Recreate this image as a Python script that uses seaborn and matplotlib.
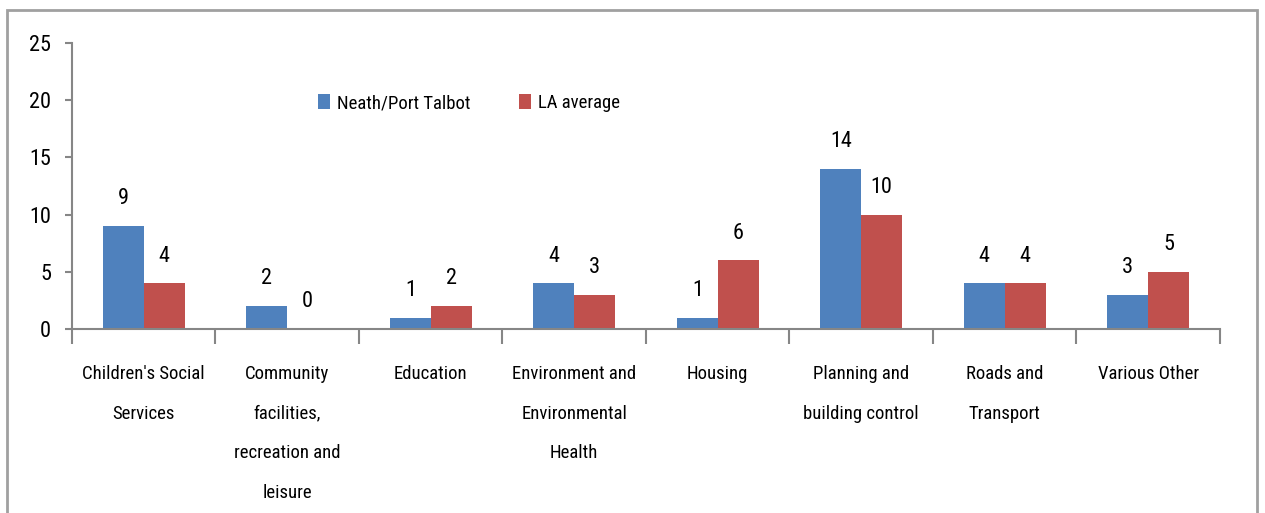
import pandas as pd
import matplotlib.pyplot as plt
import seaborn as sns
from matplotlib import font_manager
from matplotlib.patches import Rectangle

categories = [
    "Children's Social\nServices",
    "Community\nfacilities,\nrecreation and\nleisure",
    "Education",
    "Environment and\nEnvironmental\nHealth",
    "Housing",
    "Planning and\nbuilding control",
    "Roads and\nTransport",
    "Various Other",
]
neath = [9, 2, 1, 4, 1, 14, 4, 3]
la_avg = [4, 0, 2, 3, 6, 10, 4, 5]
series = ["Neath/Port Talbot", "LA average"]
colors = ["#4F81BD", "#C0504D"]

df = pd.DataFrame({
    "category": categories * 2,
    "value": neath + la_avg,
    "series": [series[0]] * len(neath) + [series[1]] * len(la_avg),
})

# narrow font if we have one, otherwise Lato
installed = {f.name for f in font_manager.fontManager.ttflist}
font = "Roboto Condensed" if "Roboto Condensed" in installed else "Lato"
small = 13.5 if font == "Roboto Condensed" else 12.5

sns.set_style("white")
plt.rcParams["font.family"] = [font, "DejaVu Sans"]
plt.rcParams["font.size"] = 16
plt.rcParams["text.color"] = "black"
plt.rcParams["xtick.color"] = "black"
plt.rcParams["ytick.color"] = "black"

fig = plt.figure(figsize=(12.65, 5.13), dpi=100)
ax = fig.add_axes([0.0569, 0.3587, 0.9075, 0.5575])

sns.barplot(data=df, x="category", y="value", hue="series", palette=colors,
            width=0.57, saturation=1, ax=ax, gap=0, linewidth=0)

for c in ax.containers:
    ax.bar_label(c, fmt="%d", padding=12, fontsize=16)

gray = "#868686"
ax.set_ylim(0, 25)
ax.set_xlim(-0.5, 7.5)
ax.set_yticks([0, 5, 10, 15, 20, 25])
ax.set_xlabel("")
ax.set_ylabel("")
for s in ["top", "right"]:
    ax.spines[s].set_visible(False)
for s in ["left", "bottom"]:
    ax.spines[s].set_color(gray)
    ax.spines[s].set_linewidth(1.5)

ax.tick_params(axis="y", direction="out", length=5, width=1.5, color=gray, pad=10,
               left=True, labelsize=16)
ax.tick_params(axis="x", which="major", length=0, pad=26, labelsize=small)
ax.set_xticks([i - 0.5 for i in range(9)], minor=True)
ax.tick_params(axis="x", which="minor", direction="out", length=11, width=1.5, color=gray, bottom=True)
for lab in ax.get_xticklabels():
    lab.set_linespacing(2.55)
    lab.set_verticalalignment("top")

ax.legend(loc="center left", bbox_to_anchor=(0.2, 0.79), ncol=2, frameon=False,
          handlelength=0.6, handleheight=0.9, handletextpad=0.4, columnspacing=2.6,
          fontsize=small)

fig.patches.append(Rectangle((7 / 1265, -0.1), 1250 / 1265, 1 - 10 / 513 + 0.1,
                             transform=fig.transFigure, fill=False,
                             edgecolor="#a0a0a0", linewidth=2))

fig.savefig("out.png", dpi=100)
